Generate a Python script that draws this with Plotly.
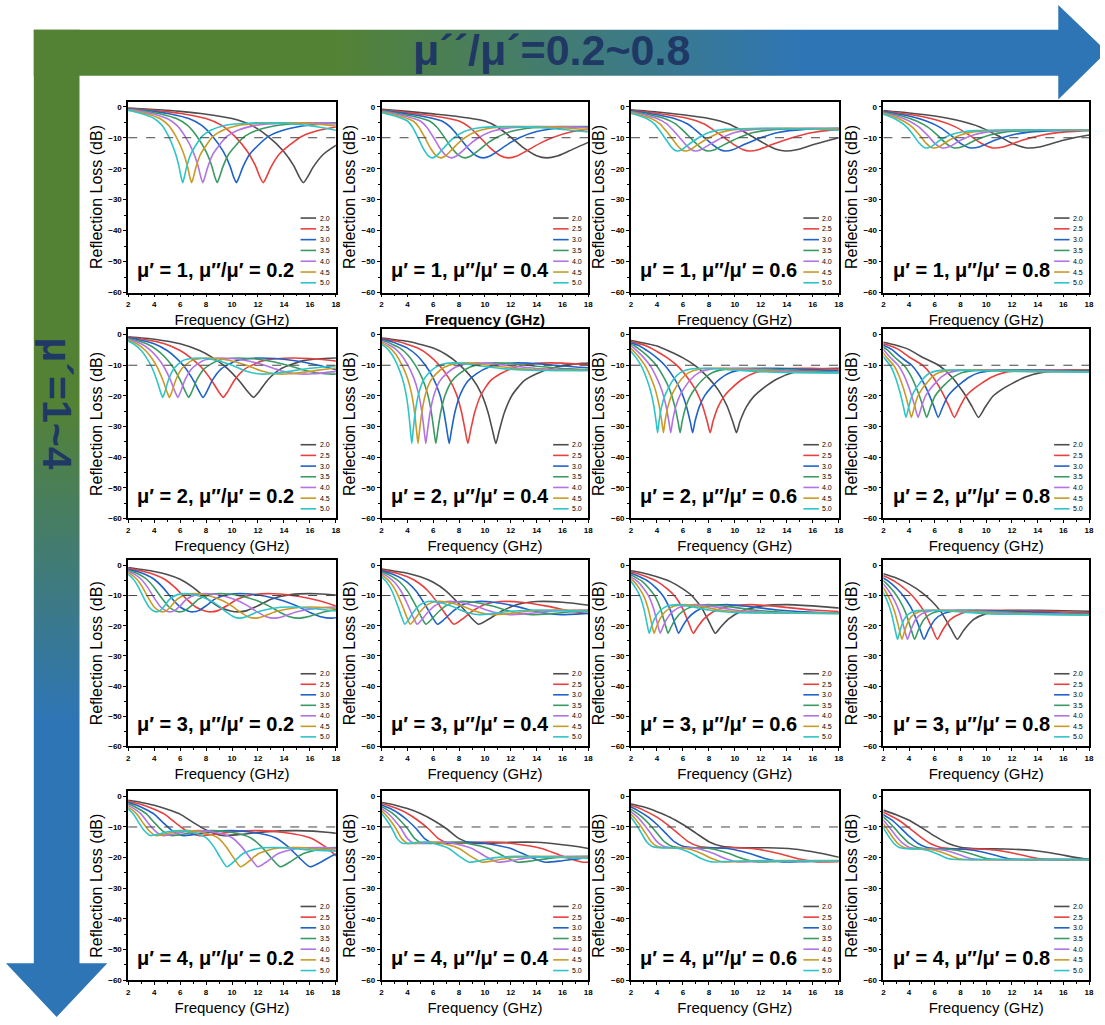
import plotly.graph_objects as go

W, H = 1105, 1025

# ---------------- data ----------------
THICKNESS_MM = [2.0, 2.5, 3.0, 3.5, 4.0, 4.5, 5.0]
LEGEND_LABELS = ["2.0", "2.5", "3.0", "3.5", "4.0", "4.5", "5.0"]
MU_REAL = [1, 2, 3, 4]
LOSS_RATIO = ["0.2", "0.4", "0.6", "0.8"]
X_TICKS = [2, 4, 6, 8, 10, 12, 14, 16, 18]
Y_TICKS = [0, -10, -20, -30, -40, -50, -60]
THRESHOLD_DB = -10
TOP_LABEL = "μ´´/μ´=0.2~0.8"
LEFT_LABEL = "μ´=1~4"

# Reflection loss (dB), indexed by frequency x thickness (GHz*mm).
# In every panel the seven thickness curves are the same curve shifted to f = (f*d)/d.
FD_1_02 = [4, 8, 12, 16, 20, 23, 25.5, 28, 29.5, 30.4, 31, 31.6, 32.5, 34, 36, 38.5, 42, 48, 56, 66, 76, 84, 92]
RL_1_02 = [-0.4, -0.9, -1.5, -2.4, -3.8, -6.0, -9.5, -14.5, -19, -22.8, -24.5, -22.8, -19.5, -15.5, -12.5, -9.5, -7.5, -5.9, -5.3, -5.2, -5.7, -6.6, -7.9]
FD_1_04 = [4, 8, 12, 16, 20, 22, 24, 26, 28, 29.6, 31.2, 33, 36, 38, 42, 48, 56, 66, 76, 86, 92]
RL_1_04 = [-0.8, -1.5, -2.3, -3.2, -4.6, -6.6, -9.8, -13.3, -15.8, -16.5, -15.9, -14.3, -11.5, -10.0, -8.0, -6.8, -6.4, -6.5, -7.0, -7.8, -8.3]
FD_1_06 = [4, 8, 12, 16, 19, 21, 23, 25, 26.5, 27.8, 29.5, 32, 36, 40, 46, 56, 70, 80, 92]
RL_1_06 = [-1.0, -1.7, -2.6, -3.8, -5.5, -7.6, -10.0, -12.4, -13.8, -14.3, -13.9, -12.3, -10.0, -8.3, -7.3, -7.0, -7.0, -7.2, -7.6]
FD_1_08 = [4, 8, 12, 16, 19, 22, 24, 26.3, 28.5, 32, 36, 40, 46, 56, 70, 92]
RL_1_08 = [-1.2, -2.0, -3.0, -4.6, -6.5, -9.5, -11.8, -13.3, -12.9, -10.8, -9.1, -8.2, -7.7, -7.5, -7.5, -7.6]

FD_2_02 = [4, 8, 12, 15, 17, 19, 21, 22.5, 23.3, 24.1, 25.5, 27.5, 31, 35, 40, 45, 50, 55, 60, 65, 72, 80, 92]
RL_2_02 = [-0.7, -1.5, -3.0, -5.2, -7.5, -10.5, -14.8, -18.8, -20.5, -18.8, -14.8, -11.2, -8.5, -7.7, -7.8, -8.6, -10.0, -11.8, -12.8, -12.8, -12.0, -11.0, -10.0]
FD_2_04 = [4, 8, 10, 12, 14, 16, 18, 19.5, 20.5, 21.2, 21.7, 22.2, 23, 24.2, 26, 28, 31, 35, 40, 48, 58, 70, 92]
RL_2_04 = [-1.1, -2.2, -3.2, -4.4, -6.5, -9.7, -14.2, -19.5, -25.5, -31.5, -35.5, -31.5, -25.5, -19.8, -15.2, -12.8, -10.6, -9.4, -9.3, -10.2, -11.2, -11.7, -11.6]
FD_2_06 = [4, 8, 10, 12, 14, 16, 17.5, 18.8, 19.7, 20.25, 20.8, 21.8, 23, 24.5, 26.5, 29, 33, 40, 50, 65, 92]
RL_2_06 = [-1.9, -3.7, -5.5, -7.6, -10.3, -14.3, -18.2, -23.3, -28.5, -32.0, -28.3, -23.5, -20.0, -17.3, -14.5, -12.4, -11.2, -11.0, -11.6, -12.3, -12.5]
FD_2_08 = [4, 6, 8, 10, 12.6, 14.5, 16.5, 17.8, 18.8, 19.8, 21, 22.5, 24, 26, 28.5, 33, 40, 60, 92]
RL_2_08 = [-2.5, -3.5, -4.9, -7.3, -10.0, -13.5, -19.0, -23.5, -27.0, -23.8, -20.2, -17.8, -16.0, -13.9, -12.4, -11.6, -11.6, -12.0, -12.3]

FD_3_02 = [4, 8, 10, 12, 14, 16, 18, 19.8, 21, 22.3, 24, 26, 29, 33, 38, 42, 45, 48, 50.5, 53, 55.5, 60, 66, 72, 80, 92]
RL_3_02 = [-0.7, -2.0, -3.0, -4.6, -7.3, -10.8, -13.8, -15.1, -15.4, -15.0, -13.4, -11.2, -9.7, -9.4, -10.3, -11.8, -13.5, -15.6, -17.0, -17.5, -17.0, -15.4, -14.2, -13.8, -14.2, -15.3]
FD_3_04 = [4, 8, 10, 12, 14, 16, 17.8, 19, 20.3, 22.5, 25, 28, 32, 37, 42, 47, 53, 60, 70, 80, 92]
RL_3_04 = [-1.2, -2.6, -3.8, -5.6, -8.5, -12.8, -17.2, -19.5, -18.2, -15.3, -13.0, -12.0, -12.2, -13.5, -15.3, -16.3, -16.0, -15.2, -14.8, -15.0, -15.4]
FD_3_06 = [4, 6, 8, 10, 12, 13.5, 15, 16.2, 17, 17.8, 19, 21, 24, 28, 33, 40, 50, 65, 92]
RL_3_06 = [-1.8, -2.6, -3.8, -5.3, -7.8, -10.3, -14.5, -19.5, -22.5, -20.5, -17.8, -15.2, -13.5, -13.0, -13.6, -14.8, -15.6, -15.8, -16.0]
FD_3_08 = [4, 6, 8, 10, 11.5, 13, 14.5, 15.5, 16.5, 18, 20, 23, 28, 36, 50, 70, 92]
RL_3_08 = [-2.8, -4.2, -6.2, -9.0, -11.8, -15.5, -21.0, -24.5, -21.5, -18.0, -16.0, -15.0, -14.9, -15.2, -16.0, -16.3, -16.5]

FD_4_02 = [4, 6, 8, 10, 12, 14, 16, 18.5, 21, 25, 30, 35, 40, 43, 45.5, 48, 50.5, 54, 60, 68, 78, 92]
RL_4_02 = [-1.3, -2.0, -2.9, -4.2, -5.8, -8.5, -11.0, -12.8, -12.5, -11.6, -11.2, -11.8, -13.5, -16.5, -20.0, -23.0, -21.5, -18.8, -17.0, -16.7, -17.4, -18.0]
FD_4_04 = [4, 6, 8, 10, 12, 14, 16, 18, 20, 24, 28, 32, 36, 40, 44, 48, 54, 62, 75, 92]
RL_4_04 = [-2.0, -2.8, -4.0, -5.6, -7.8, -10.5, -13.8, -15.3, -15.4, -15.0, -15.0, -15.8, -17.0, -19.5, -21.5, -21.0, -20.0, -19.6, -19.8, -20.3]
FD_4_06 = [4, 6, 8, 10, 12, 14, 16, 18, 21, 25, 29, 33, 37, 41, 46, 55, 70, 92]
RL_4_06 = [-2.5, -3.5, -5.0, -6.8, -9.2, -12.0, -14.8, -16.3, -16.8, -16.8, -17.2, -18.5, -20.3, -21.4, -21.3, -21.0, -21.0, -21.2]
FD_4_08 = [4, 6, 8, 10, 12, 14, 16, 19, 23, 27, 31, 35, 40, 50, 70, 92]
RL_4_08 = [-4.5, -6.0, -7.8, -10.3, -13.0, -15.3, -16.6, -17.1, -17.2, -17.6, -18.8, -20.3, -20.7, -20.6, -20.6, -20.7]

PROFILES = [
    [(FD_1_02, RL_1_02), (FD_1_04, RL_1_04), (FD_1_06, RL_1_06), (FD_1_08, RL_1_08)],
    [(FD_2_02, RL_2_02), (FD_2_04, RL_2_04), (FD_2_06, RL_2_06), (FD_2_08, RL_2_08)],
    [(FD_3_02, RL_3_02), (FD_3_04, RL_3_04), (FD_3_06, RL_3_06), (FD_3_08, RL_3_08)],
    [(FD_4_02, RL_4_02), (FD_4_04, RL_4_04), (FD_4_06, RL_4_06), (FD_4_08, RL_4_08)],
]

# ---------------- styling ----------------
COLORS = ["#4d4d4d", "#e8403f", "#1f62c9", "#3b9a62", "#b373e3", "#c99b26", "#2fc4c8"]
GREEN, BLUE, NAVY = "#548235", "#2e75b6", "#1f3864"
FONT = "Liberation Sans, Arial, sans-serif"

COL_PX = [(127, 336), (382, 590), (633, 842), (887, 1094)]
ROW_PX = [(102, 294), (331, 521), (563, 750), (795, 985)]

fig = go.Figure()

# background arrows (overlay axis in pixel units, y measured upward)
def up(y):
    return H - y

top_x = [32, 1063, 1063, 1112, 1063, 1063, 32]
top_y = [up(v) for v in [30, 30, 5, 52, 100, 76, 76]]
left_x = [32, 78, 78, 106, 55, 4, 32]
left_y = [up(v) for v in [30, 30, 968, 968, 1022, 968, 968]]

fig.add_trace(go.Scatter(
    x=left_x, y=left_y, xaxis="x", yaxis="y", mode="none", fill="toself",
    fillgradient=dict(type="vertical",
                      colorscale=[[0, BLUE], [0.3, BLUE], [0.62, GREEN], [1, GREEN]]),
    hoverinfo="skip", showlegend=False))
fig.add_trace(go.Scatter(
    x=top_x, y=top_y, xaxis="x", yaxis="y", mode="none", fill="toself",
    fillgradient=dict(type="horizontal",
                      colorscale=[[0, GREEN], [0.28, GREEN], [0.72, BLUE], [1, BLUE]]),
    hoverinfo="skip", showlegend=False))

layout = dict(
    width=W, height=H, margin=dict(l=0, r=0, t=0, b=0),
    paper_bgcolor="white", plot_bgcolor="rgba(0,0,0,0)",
    showlegend=False, font=dict(family=FONT, color="black"),
    xaxis=dict(domain=[0, 1], range=[0, W], visible=False, fixedrange=True),
    yaxis=dict(domain=[0, 1], range=[0, H], visible=False, fixedrange=True),
)
shapes, annotations = [], []

for r, mu in enumerate(MU_REAL):
    for c, ratio in enumerate(LOSS_RATIO):
        n = r * 4 + c + 2
        xa, ya = f"x{n}", f"y{n}"
        fd, rl = PROFILES[r][c]
        for i, d in enumerate(THICKNESS_MM):
            fig.add_trace(go.Scatter(
                x=[v / d for v in fd], y=rl, xaxis=xa, yaxis=ya, mode="lines",
                line=dict(color=COLORS[i], width=1.6, shape="spline", smoothing=0.6),
                name=LEGEND_LABELS[i], showlegend=False))
        x0, x1 = COL_PX[c]
        y0, y1 = ROW_PX[r]
        title_weight = "bold" if (r == 0 and c == 1) else "normal"
        layout[f"xaxis{n}"] = dict(
            domain=[x0 / W, x1 / W], anchor=ya, range=[2, 18], tickvals=X_TICKS,
            showline=True, mirror=True, linecolor="black", linewidth=1.6,
            ticks="outside", ticklen=3, tickwidth=1, tickcolor="black",
            minor=dict(ticks="outside", ticklen=2, dtick=1, tickcolor="black"),
            tickfont=dict(size=8, family=FONT, weight="bold"),
            showgrid=False, zeroline=False, fixedrange=True,
            title=dict(text="Frequency (GHz)", standoff=7,
                       font=dict(size=15, family=FONT, weight=title_weight)))
        layout[f"yaxis{n}"] = dict(
            domain=[1 - y1 / H, 1 - y0 / H], anchor=xa, range=[-60, 1.7], tickvals=Y_TICKS,
            showline=True, mirror=True, linecolor="black", linewidth=1.6,
            ticks="outside", ticklen=3, tickwidth=1, tickcolor="black",
            minor=dict(ticks="outside", ticklen=2, dtick=5, tickcolor="black"),
            tickfont=dict(size=8, family=FONT, weight="bold"),
            showgrid=False, zeroline=False, fixedrange=True,
            title=dict(text="Reflection Loss (dB)", standoff=2,
                       font=dict(size=16, family=FONT)))
        shapes.append(dict(type="line", xref=xa, yref=ya, x0=X_TICKS[0], x1=X_TICKS[-1],
                           y0=THRESHOLD_DB, y1=THRESHOLD_DB,
                           line=dict(color="#444444", width=1, dash="dash")))
        for i, lab in enumerate(LEGEND_LABELS):
            yy = 0.39 - i * 0.0565
            shapes.append(dict(type="line", xref=f"{xa} domain", yref=f"{ya} domain",
                               x0=0.83, x1=0.905, y0=yy, y1=yy,
                               line=dict(color=COLORS[i], width=1.6)))
            annotations.append(dict(xref=f"{xa} domain", yref=f"{ya} domain",
                                    x=0.912, y=yy, text=lab, showarrow=False,
                                    xanchor="left", yanchor="middle",
                                    font=dict(size=7, family=FONT)))
        annotations.append(dict(xref=f"{xa} domain", yref=f"{ya} domain",
                                x=0.035, y=0.12, showarrow=False,
                                xanchor="left", yanchor="middle",
                                text=f"μ′ = {mu}, μ″/μ′ = {ratio}",
                                font=dict(size=20, family=FONT, weight="bold")))

annotations.append(dict(xref="paper", yref="paper", x=553 / W, y=1 - 50 / H,
                        text=TOP_LABEL, showarrow=False, xanchor="center", yanchor="middle",
                        font=dict(size=43, family=FONT, color=NAVY, weight="bold")))
annotations.append(dict(xref="paper", yref="paper", x=55 / W, y=1 - 405 / H,
                        text=LEFT_LABEL, showarrow=False, textangle=90,
                        xanchor="center", yanchor="middle",
                        font=dict(size=41, family=FONT, color=NAVY, weight="bold")))

layout["shapes"] = shapes
layout["annotations"] = annotations
fig.update_layout(**layout)
fig.write_html("out.html")
